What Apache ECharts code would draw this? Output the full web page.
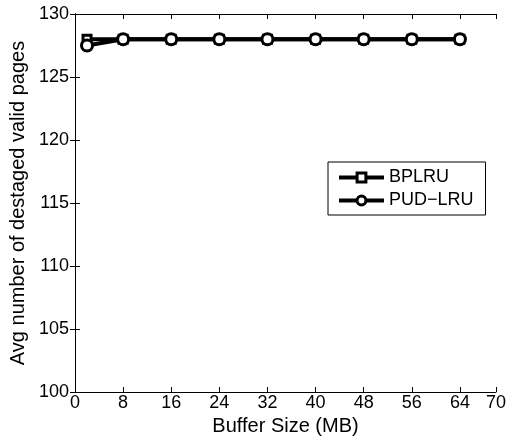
<!DOCTYPE html>
<html><head><meta charset="utf-8">
<script src="https://cdn.jsdelivr.net/npm/echarts@6/dist/echarts.min.js"></script>
<style>html,body{margin:0;padding:0;background:#fff}#c{width:509px;height:443px}</style>
</head><body><div id="c"></div>
<script>
var bufferSizes = [2, 8, 16, 24, 32, 40, 48, 56, 64];
var bplru = [128, 128, 128, 128, 128, 128, 128, 128, 128];
var pudlru = [127.5, 128, 128, 128, 128, 128, 128, 128, 128];
var xTicks = [0, 8, 16, 24, 32, 40, 48, 56, 64, 70];

function pairs(xs, ys) { return xs.map(function (x, i) { return [x, ys[i]]; }); }

var font = 'Liberation Sans, Arial, sans-serif';
var chart = echarts.init(document.getElementById('c'));
var axisLine = { show: true, lineStyle: { color: '#000', width: 1 } };
chart.setOption({
  animation: false,
  backgroundColor: '#fff',
  grid: { left: 75, right: 10, top: 14, bottom: 51, containLabel: false },
  xAxis: [{
    type: 'value', min: 0, max: 70, interval: 8,
    axisLine: axisLine,
    axisTick: { show: true, inside: true, length: 5, lineStyle: { color: '#000' }, customValues: xTicks },
    axisLabel: { color: '#000', fontSize: 18, fontFamily: font, margin: 2, customValues: xTicks },
    splitLine: { show: false },
    name: 'Buffer Size (MB)', nameLocation: 'middle', nameGap: 23,
    nameTextStyle: { color: '#000', fontSize: 20, fontFamily: font }
  }, {
    type: 'value', min: 0, max: 70, position: 'top',
    axisLine: axisLine,
    axisTick: { show: true, inside: true, length: 5, lineStyle: { color: '#000' }, customValues: xTicks },
    axisLabel: { show: false }, splitLine: { show: false }
  }],
  yAxis: [{
    type: 'value', min: 100, max: 130, interval: 5,
    axisLine: axisLine,
    axisTick: { show: true, inside: true, length: 5, lineStyle: { color: '#000' } },
    axisLabel: { color: '#000', fontSize: 18, fontFamily: font, margin: 6 },
    splitLine: { show: false },
    name: 'Avg number of destaged valid pages', nameLocation: 'middle', nameGap: 42,
    nameTextStyle: { color: '#000', fontSize: 20, fontFamily: font }
  }, {
    type: 'value', min: 100, max: 130, interval: 5, position: 'right',
    axisLine: axisLine,
    axisTick: { show: true, inside: true, length: 5, lineStyle: { color: '#000' } },
    axisLabel: { show: false }, splitLine: { show: false }
  }],
  legend: {
    left: 328, top: 162, orient: 'vertical',
    itemWidth: 45, itemHeight: 11, itemGap: 2,
    padding: [5, 12, 4, 9],
    backgroundColor: '#fff', borderColor: '#000', borderWidth: 1, borderRadius: 0,
    lineStyle: { width: 4, color: '#000' },
    itemStyle: { color: '#fff', borderColor: '#000', borderWidth: 3 },
    textStyle: { color: '#000', fontSize: 18, fontFamily: font, lineHeight: 21 },
    data: ['BPLRU', 'PUD\u2212LRU']
  },
  series: [{
    name: 'BPLRU', type: 'line', data: pairs(bufferSizes, bplru),
    symbol: 'rect', symbolSize: 8, showAllSymbol: true,
    lineStyle: { color: '#000', width: 4 },
    itemStyle: { color: '#fff', borderColor: '#000', borderWidth: 3 }
  }, {
    name: 'PUD\u2212LRU', type: 'line', data: pairs(bufferSizes, pudlru),
    symbol: 'circle', symbolSize: 11, showAllSymbol: true,
    lineStyle: { color: '#000', width: 4 },
    itemStyle: { color: '#fff', borderColor: '#000', borderWidth: 3 }
  }]
});
</script></body></html>
